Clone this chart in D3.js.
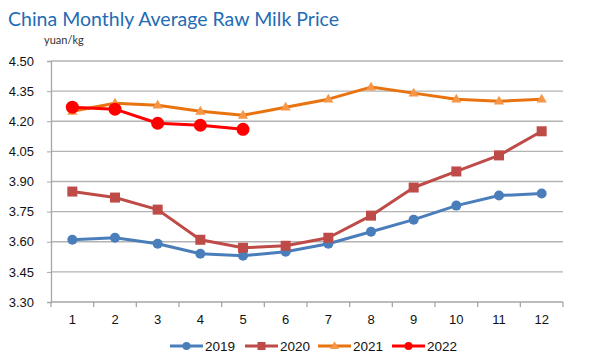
<!DOCTYPE html>
<html><head><meta charset="utf-8">
<script src="https://cdn.jsdelivr.net/npm/d3@7"></script>
<style>body{margin:0;background:#fff}svg{display:block}</style>
</head><body><svg id="c" width="594" height="358"></svg>
<script>
const months = [1,2,3,4,5,6,7,8,9,10,11,12];
const v2019 = [3.61,3.62,3.59,3.54,3.53,3.55,3.59,3.65,3.71,3.78,3.83,3.84];
const v2020 = [3.85,3.82,3.76,3.61,3.57,3.58,3.62,3.73,3.87,3.95,4.03,4.15];
const v2021 = [4.25,4.29,4.28,4.25,4.23,4.27,4.31,4.37,4.34,4.31,4.30,4.31];
const v2022 = [4.27,4.26,4.19,4.18,4.16];
const yTicks = [3.30,3.45,3.60,3.75,3.90,4.05,4.20,4.35,4.50];
const seriesNames = ["2019","2020","2021","2022"];

const series = [
  {name:seriesNames[0], values:v2019, line:"#4a7ebb", fill:"#4a7ebb", shape:"circle", r:5},
  {name:seriesNames[1], values:v2020, line:"#be4b48", fill:"#be4b48", shape:"square", r:5},
  {name:seriesNames[2], values:v2021, line:"#e8730f", fill:"#f79646", shape:"triangle", r:4.5},
  {name:seriesNames[3], values:v2022, line:"#ff0000", fill:"#ff0000", shape:"circle", r:6.5}
];

const svg = d3.select("#c");
const m = {l:51, r:563, t:61, b:302};
const x = d3.scaleBand().domain(months).range([m.l, m.r]);
const y = d3.scaleLinear().domain([3.30,4.50]).range([m.b, m.t]);

svg.append("text").attr("x",8).attr("y",26).attr("font-family","Lato, 'Open Sans', sans-serif")
  .attr("font-size",19.5).attr("fill","#1f6db4").text("China Monthly Average Raw Milk Price");
svg.append("text").attr("x",44).attr("y",44).attr("font-family","Lato, 'Open Sans', sans-serif")
  .attr("font-size",11).attr("fill","#333").text("yuan/kg");

// grid
svg.append("g").selectAll("line").data(yTicks.slice(1)).join("line")
  .attr("x1",m.l).attr("x2",m.r).attr("y1",d=>y(d)).attr("y2",d=>y(d))
  .attr("stroke","#b3b3b3").attr("stroke-width",1.3);

const yAxis = svg.append("g").attr("transform",`translate(${m.l},0)`)
  .call(d3.axisLeft(y).tickValues(yTicks).tickFormat(d3.format(".2f")).tickSize(4));
yAxis.select(".domain").attr("stroke","#a6a6a6").attr("stroke-width",1.3);
yAxis.selectAll(".tick line").attr("stroke","#a6a6a6");
yAxis.selectAll("text").attr("font-family","Liberation Sans, Arial, sans-serif").attr("font-size",13).attr("fill","#111").attr("x",-17);

// x axis
const xg = svg.append("g").attr("transform",`translate(0,${m.b})`);
xg.append("line").attr("x1",m.l).attr("x2",m.r).attr("stroke","#a6a6a6").attr("stroke-width",1.3);
const bounds = months.map(d=>x(d)).concat([m.r]);
xg.selectAll(".tk").data(bounds).join("line").attr("class","tk")
  .attr("x1",d=>d).attr("x2",d=>d).attr("y1",0).attr("y2",5).attr("stroke","#a6a6a6").attr("stroke-width",1.3);
xg.selectAll("text").data(months).join("text")
  .attr("x",d=>x(d)+x.bandwidth()/2).attr("y",22).attr("text-anchor","middle")
  .attr("font-family","Liberation Sans, Arial, sans-serif").attr("font-size",13).attr("fill","#111").text(d=>d);

const cx = i => x(months[i]) + x.bandwidth()/2;
const line = d3.line().x((d,i)=>cx(i)).y(d=>y(d));

function marker(g, s, px, py){
  if(s.shape==="circle") g.append("circle").attr("cx",px).attr("cy",py).attr("r",s.r).attr("fill",s.fill);
  else if(s.shape==="square") g.append("rect").attr("x",px-s.r).attr("y",py-s.r).attr("width",2*s.r).attr("height",2*s.r).attr("fill",s.fill);
  else g.append("path").attr("d",d3.symbol(d3.symbolTriangle, s.r*s.r*2.2)()).attr("transform",`translate(${px},${py+0.5})`).attr("fill",s.fill);
}

series.forEach(s=>{
  const g = svg.append("g");
  g.append("path").datum(s.values).attr("d",line).attr("fill","none").attr("stroke",s.line).attr("stroke-width",3).attr("stroke-linejoin","round");
  s.values.forEach((v,i)=>marker(g,s,cx(i),y(v)));
});

// legend
const lx = [170,245,318,392];
series.forEach((s,i)=>{
  const g = svg.append("g");
  g.append("line").attr("x1",lx[i]).attr("x2",lx[i]+33).attr("y1",346).attr("y2",346).attr("stroke",s.line).attr("stroke-width",3);
  const ms = Object.assign({}, s, {r: 4});
  marker(g, ms, lx[i]+16.5, 346);
  g.append("text").attr("x",lx[i]+35).attr("y",351).attr("font-family","Liberation Sans, Arial, sans-serif")
    .attr("font-size",13.5).attr("fill","#111").text(s.name);
});
</script></body></html>
